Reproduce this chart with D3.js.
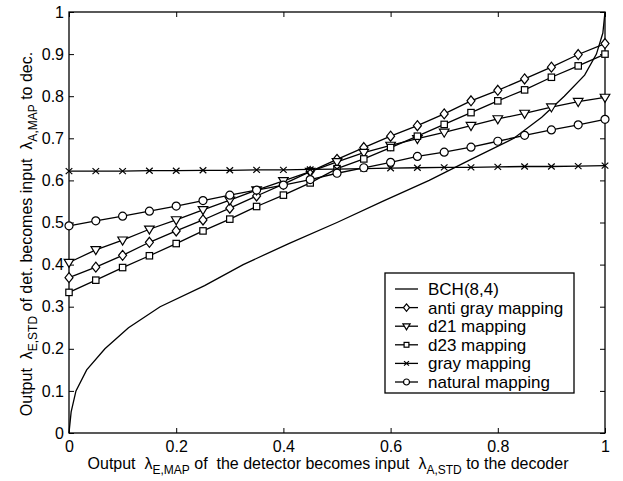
<!DOCTYPE html>
<html>
<head>
<meta charset="utf-8">
<script src="https://cdn.jsdelivr.net/npm/d3@7"></script>
<style>
  body { margin: 0; background: #fff; }
  text { font-family: "Liberation Sans", Arial, Helvetica, sans-serif; fill: #000; }
</style>
</head>
<body>
<div id="chart"></div>
<script>
// x positions of the mapping curves
const mapX = [0, 0.05, 0.1, 0.15, 0.2, 0.25, 0.3, 0.35, 0.4, 0.45, 0.5,
              0.55, 0.6, 0.65, 0.7, 0.75, 0.8, 0.85, 0.9, 0.95, 1];
const antiGray = [0.369, 0.394, 0.422, 0.453, 0.480, 0.506, 0.534, 0.563, 0.591, 0.621, 0.650,
                  0.678, 0.705, 0.730, 0.758, 0.789, 0.814, 0.841, 0.869, 0.899, 0.925];
const d21 = [0.405, 0.435, 0.458, 0.484, 0.506, 0.530, 0.553, 0.577, 0.599, 0.621, 0.644,
             0.666, 0.683, 0.699, 0.714, 0.730, 0.746, 0.759, 0.774, 0.787, 0.797];
const d23 = [0.334, 0.363, 0.393, 0.421, 0.450, 0.480, 0.508, 0.538, 0.565, 0.594, 0.628,
             0.651, 0.678, 0.705, 0.733, 0.761, 0.789, 0.815, 0.845, 0.872, 0.900];
const gray = [0.622, 0.622, 0.622, 0.623, 0.623, 0.624, 0.624, 0.625, 0.625, 0.626, 0.627,
              0.628, 0.629, 0.630, 0.631, 0.631, 0.632, 0.633, 0.633, 0.634, 0.635];
const natural = [0.492, 0.504, 0.515, 0.527, 0.539, 0.552, 0.565, 0.577, 0.589, 0.602, 0.617,
                 0.630, 0.643, 0.657, 0.667, 0.679, 0.693, 0.707, 0.720, 0.732, 0.745];

// BCH(8,4) decoder curve (axes swapped)
const bchX = [0, 0.004, 0.013, 0.033, 0.067, 0.111, 0.170, 0.253, 0.325, 0.410, 0.500,
              0.585, 0.672, 0.750, 0.830, 0.882, 0.924, 0.962, 0.984, 0.996, 1];
const bchY = [0, 0.05, 0.1, 0.15, 0.2, 0.25, 0.3, 0.35, 0.4, 0.45, 0.5,
              0.55, 0.6, 0.65, 0.7, 0.75, 0.8, 0.85, 0.9, 0.95, 1];

const xTicks = [0, 0.2, 0.4, 0.6, 0.8, 1];
const yTicks = [0, 0.1, 0.2, 0.3, 0.4, 0.5, 0.6, 0.7, 0.8, 0.9, 1];

const legendNames = ["BCH(8,4)", "anti gray mapping", "d21 mapping", "d23 mapping", "gray mapping", "natural mapping"];

let margin = {top: 12, right: 18, bottom: 48, left: 69};
let width = 623 - margin.left - margin.right;
let height = 481 - margin.top - margin.bottom;

let root = d3.select("#chart").append("svg")
    .attr("width", 623)
    .attr("height", 481);

let svg = root.append("g")
    .attr("transform", `translate(${margin.left}, ${margin.top})`);

const x = d3.scaleLinear().domain([0, 1]).range([0, width]);
const y = d3.scaleLinear().domain([0, 1]).range([height, 0]);
const fmt = d3.format("~g");

// axes with inward ticks on all four sides
function styleAxis(g) {
    g.select(".domain").remove();
    g.selectAll("line").attr("stroke", "#000").attr("stroke-width", 1);
    g.selectAll("text").style("font-size", "16px").attr("fill", "#000");
}
svg.append("g")
    .attr("transform", `translate(0, ${height})`)
    .call(d3.axisBottom(x).tickValues(xTicks).tickSize(-5).tickPadding(8).tickFormat(fmt))
    .call(styleAxis);
svg.append("g")
    .call(d3.axisTop(x).tickValues(xTicks).tickSize(-5).tickFormat(""))
    .call(styleAxis);
svg.append("g")
    .call(d3.axisLeft(y).tickValues(yTicks).tickSize(-5).tickPadding(5).tickFormat(fmt))
    .call(styleAxis);
svg.append("g")
    .attr("transform", `translate(${width}, 0)`)
    .call(d3.axisRight(y).tickValues(yTicks).tickSize(-5).tickFormat(""))
    .call(styleAxis);

svg.append("rect")
    .attr("width", width)
    .attr("height", height)
    .attr("fill", "none")
    .attr("stroke", "#000")
    .attr("stroke-width", 1.3);

// marker shapes
function marker(sel, type, s) {
    if (type === "diamond") {
        sel.append("path").attr("d", `M0,${-5*s}L${4*s},0L0,${5*s}L${-4*s},0Z`);
    } else if (type === "tri") {
        sel.append("path").attr("d", `M${-4.8*s},${-3.2*s}L${4.8*s},${-3.2*s}L0,${4.8*s}Z`);
    } else if (type === "square") {
        sel.append("rect").attr("x", -3.2*s).attr("y", -3.2*s).attr("width", 6.4*s).attr("height", 6.4*s);
    } else if (type === "x") {
        sel.append("path").attr("d", `M${-3.3*s},${-3*s}L${3.3*s},${3*s}M${-3.3*s},${3*s}L${3.3*s},${-3*s}`);
    } else if (type === "circle") {
        sel.append("circle").attr("r", 4*s);
    }
    sel.attr("fill", "#fff").attr("stroke", "#000").attr("stroke-width", 1.2);
}

const line = d3.line().x(d => x(d[0])).y(d => y(d[1]));

// BCH curve
svg.append("path")
    .datum(bchX.map((v, i) => [v, bchY[i]]))
    .attr("d", line)
    .attr("fill", "none")
    .attr("stroke", "#000")
    .attr("stroke-width", 1.3);

const series = [
    {values: antiGray, type: "diamond"},
    {values: d21, type: "tri"},
    {values: d23, type: "square"},
    {values: gray, type: "x"},
    {values: natural, type: "circle"}
];

series.forEach(s => {
    const pts = mapX.map((v, i) => [v, s.values[i]]);
    svg.append("path")
        .datum(pts)
        .attr("d", line)
        .attr("fill", "none")
        .attr("stroke", "#000")
        .attr("stroke-width", 1.3);
    svg.selectAll(null)
        .data(pts)
        .enter()
        .append("g")
        .attr("transform", d => `translate(${x(d[0])}, ${y(d[1])})`)
        .each(function() { marker(d3.select(this), s.type, 1); });
});

// legend
const lg = root.append("g").attr("transform", "translate(385, 273)");
lg.append("rect")
    .attr("width", 189)
    .attr("height", 120)
    .attr("fill", "#fff")
    .attr("stroke", "#000")
    .attr("stroke-width", 1.3);
const legendTypes = [null, "diamond", "tri", "square", "x", "circle"];
legendNames.forEach((name, i) => {
    const cy = 16 + i * 18.6;
    lg.append("line")
        .attr("x1", 10).attr("x2", 33)
        .attr("y1", cy).attr("y2", cy)
        .attr("stroke", "#000").attr("stroke-width", 1.3);
    if (legendTypes[i]) {
        const m = lg.append("g").attr("transform", `translate(21.5, ${cy})`);
        marker(m, legendTypes[i], 0.75);
    }
    lg.append("text")
        .attr("x", 43)
        .attr("y", cy)
        .attr("dy", "0.35em")
        .style("font-size", "17px")
        .text(name);
});

// axis labels with subscripts
function label(t, parts) {
    parts.forEach(p => {
        const ts = t.append("tspan").text(p[0]);
        if (p[1] === "sub") ts.attr("dy", 5).style("font-size", "12px");
        if (p[1] === "up") ts.attr("dy", -5);
    });
}

const xl = root.append("text")
    .attr("x", 328)
    .attr("y", 469)
    .attr("text-anchor", "middle")
    .style("font-size", "16px")
    .style("white-space", "pre");
label(xl, [["Output  \u03bb"], ["E,MAP", "sub"], [" of  the detector becomes input  \u03bb", "up"],
           ["A,STD", "sub"], [" to the decoder", "up"]]);

const yl = root.append("text")
    .attr("transform", "translate(32, 234) rotate(-90)")
    .attr("text-anchor", "middle")
    .style("font-size", "16px")
    .style("white-space", "pre");
label(yl, [["Output  \u03bb"], ["E,STD", "sub"], [" of det. becomes input  \u03bb", "up"],
           ["A,MAP", "sub"], [" to dec.", "up"]]);
</script>
</body>
</html>
